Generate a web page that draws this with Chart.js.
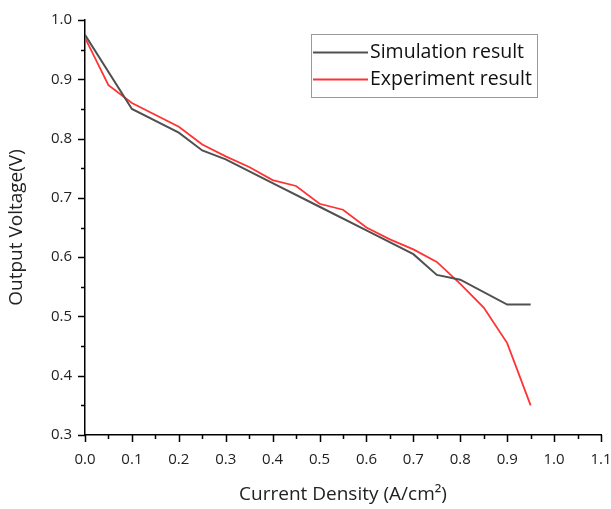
<!DOCTYPE html>
<html>
<head>
<meta charset="utf-8">
<script src="https://cdn.jsdelivr.net/npm/chart.js@4"></script>
<style>
  html, body { margin: 0; padding: 0; background: #fff; }
  #wrap { width: 611px; height: 509px; }
</style>
</head>
<body>
<div id="wrap"><canvas id="chart"></canvas></div>
<script>
// current density (A/cm2) and voltage (V)
const simDensity = [0, 0.1, 0.2, 0.25, 0.3, 0.4, 0.5, 0.6, 0.7, 0.75, 0.8, 0.9, 0.95];
const simVoltage = [0.975, 0.85, 0.81, 0.78, 0.765, 0.725, 0.685, 0.645, 0.605, 0.57, 0.562, 0.52, 0.52];

const expDensity = [0, 0.05, 0.1, 0.2, 0.25, 0.3, 0.35, 0.4, 0.45, 0.5, 0.55, 0.6, 0.65, 0.7, 0.75, 0.8, 0.85, 0.9, 0.95];
const expVoltage = [0.97, 0.89, 0.86, 0.82, 0.79, 0.77, 0.752, 0.73, 0.72, 0.69, 0.68, 0.65, 0.63, 0.613, 0.592, 0.555, 0.515, 0.455, 0.35];

const seriesLabels = ['Simulation result', 'Experiment result'];
const seriesColors = ['#505050', '#ff3333'];

const FONT = '"Open Sans", sans-serif';

function toPoints(xs, ys) {
    return xs.map((x, i) => ({ x: x, y: ys[i] }));
}

function isMajor(v) {
    return Math.round(v * 100) % 10 === 0;
}

// minor/major tick marks pointing outward
const tickMarks = {
    id: 'tickMarks',
    afterDraw(chart) {
        const ctx = chart.ctx;
        const xs = chart.scales.x, ys = chart.scales.y;
        ctx.save();
        ctx.strokeStyle = '#000';
        ctx.lineWidth = 1.5;
        ctx.beginPath();
        xs.ticks.forEach(t => {
            const px = Math.round(xs.getPixelForValue(t.value)) + 0.5;
            const len = isMajor(t.value) ? 7 : 4;
            ctx.moveTo(px, xs.top);
            ctx.lineTo(px, xs.top + len);
        });
        ys.ticks.forEach(t => {
            const py = Math.round(ys.getPixelForValue(t.value)) + 0.5;
            const len = isMajor(t.value) ? 7 : 4;
            ctx.moveTo(ys.right, py);
            ctx.lineTo(ys.right - len, py);
        });
        ctx.stroke();
        ctx.restore();
    }
};

// boxed legend inside the plot
const boxLegend = {
    id: 'boxLegend',
    afterDraw(chart) {
        const ctx = chart.ctx;
        const left = 311, top = 34, w = 226, h = 63;
        ctx.save();
        ctx.strokeStyle = '#9a9a9a';
        ctx.lineWidth = 1;
        ctx.strokeRect(left + 0.5, top + 0.5, w, h);
        ctx.font = '19.5px ' + FONT;
        ctx.textBaseline = 'middle';
        ctx.fillStyle = '#111';
        chart.data.datasets.forEach((ds, i) => {
            const y = top + 18 + i * 27;
            ctx.strokeStyle = ds.borderColor;
            ctx.lineWidth = 2;
            ctx.beginPath();
            ctx.moveTo(left + 2, y + 0.5);
            ctx.lineTo(left + 57, y + 0.5);
            ctx.stroke();
            ctx.fillText(ds.label, left + 59, y);
        });
        ctx.restore();
    }
};

new Chart(document.getElementById('chart'), {
    type: 'scatter',
    data: {
        datasets: [
            {
                label: seriesLabels[0],
                data: toPoints(simDensity, simVoltage),
                borderColor: seriesColors[0],
                backgroundColor: seriesColors[0],
                borderWidth: 2,
                showLine: true,
                pointRadius: 0,
                tension: 0
            },
            {
                label: seriesLabels[1],
                data: toPoints(expDensity, expVoltage),
                borderColor: seriesColors[1],
                backgroundColor: seriesColors[1],
                borderWidth: 1.8,
                showLine: true,
                pointRadius: 0,
                tension: 0
            }
        ]
    },
    options: {
        responsive: true,
        maintainAspectRatio: false,
        animation: false,
        layout: { padding: { top: 20, right: 0, left: 0, bottom: 0 } },
        plugins: {
            legend: { display: false },
            tooltip: { enabled: false }
        },
        scales: {
            x: {
                type: 'linear',
                min: 0,
                max: 1.1,
                grid: { display: false },
                border: { display: true, color: '#000', width: 1.5 },
                ticks: {
                    stepSize: 0.05,
                    autoSkip: false,
                    maxRotation: 0,
                    padding: 8,
                    color: '#222',
                    font: { family: FONT, size: 15 },
                    callback: v => isMajor(v) ? v.toFixed(1) : ''
                },
                title: {
                    display: true,
                    text: 'Current Density (A/cm²)',
                    color: '#222',
                    font: { family: FONT, size: 19 },
                    padding: { top: 4, bottom: 3 }
                },
                afterFit: s => {
                    s.height = 74;
                    s.paddingLeft = 0;
                    s.paddingRight = 10;
                }
            },
            y: {
                type: 'linear',
                min: 0.3,
                max: 1.0,
                grid: { display: false },
                border: { display: true, color: '#000', width: 1.5 },
                ticks: {
                    stepSize: 0.05,
                    autoSkip: false,
                    padding: 5,
                    color: '#222',
                    font: { family: FONT, size: 15 },
                    callback: v => isMajor(v) ? v.toFixed(1) : ''
                },
                title: {
                    display: true,
                    text: 'Output Voltage(V)',
                    color: '#222',
                    font: { family: FONT, size: 19 },
                    padding: { top: 5, bottom: 0 }
                },
                afterFit: s => { s.width = 85; }
            }
        }
    },
    plugins: [tickMarks, boxLegend]
});
</script>
</body>
</html>
